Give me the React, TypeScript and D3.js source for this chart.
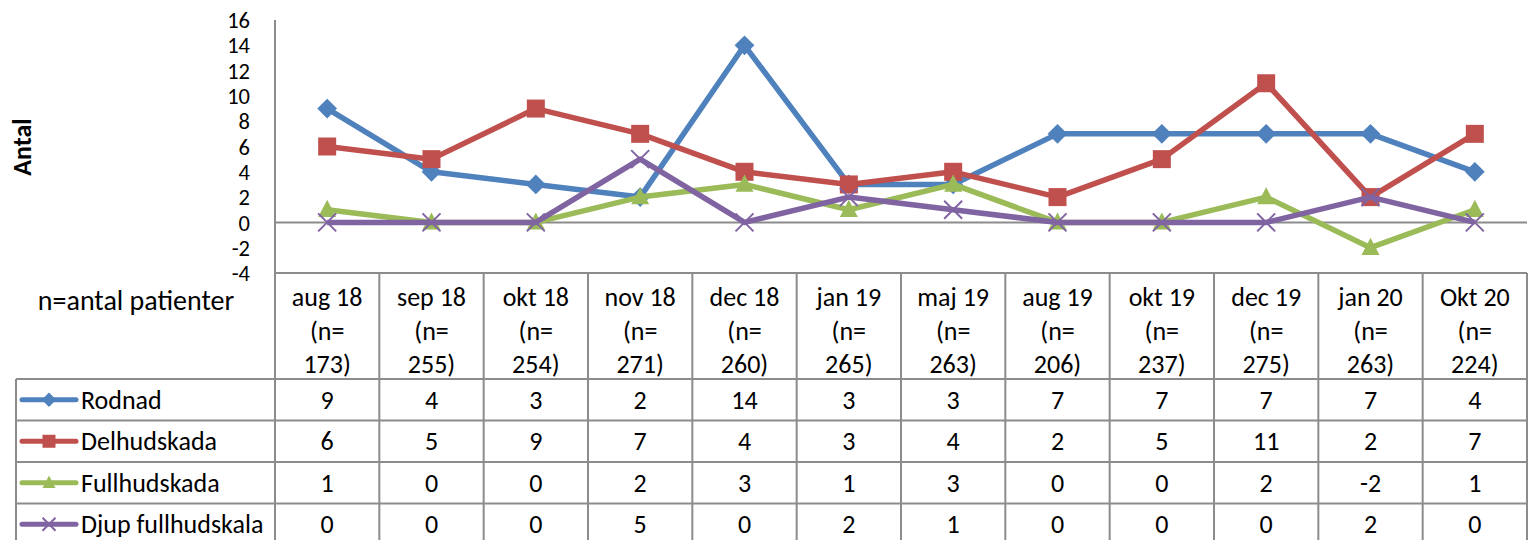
import React from 'react';
import * as d3 from 'd3';

const months = ['aug 18', 'sep 18', 'okt 18', 'nov 18', 'dec 18', 'jan 19', 'maj 19', 'aug 19', 'okt 19', 'dec 19', 'jan 20', 'Okt 20'];
const patients = [173, 255, 254, 271, 260, 265, 263, 206, 237, 275, 263, 224];

const rodnad = [9, 4, 3, 2, 14, 3, 3, 7, 7, 7, 7, 4];
const delhudskada = [6, 5, 9, 7, 4, 3, 4, 2, 5, 11, 2, 7];
const fullhudskada = [1, 0, 0, 2, 3, 1, 3, 0, 0, 2, -2, 1];
const djupFullhudskala = [0, 0, 0, 5, 0, 2, 1, 0, 0, 0, 2, 0];

const yTicks = [-4, -2, 0, 2, 4, 6, 8, 10, 12, 14, 16];

const series = [
  { name: 'Rodnad', values: rodnad, color: '#4F81BD', marker: 'diamond' },
  { name: 'Delhudskada', values: delhudskada, color: '#C0504D', marker: 'square' },
  { name: 'Fullhudskada', values: fullhudskada, color: '#9BBB59', marker: 'triangle' },
  { name: 'Djup fullhudskala', values: djupFullhudskala, color: '#8064A2', marker: 'x' },
];

const W = 1528;
const H = 540;
const FONT = 'Carlito, Calibri, Lato, sans-serif';
const GRID = '#8c8c8c';
const TXT = 26;

// marker drawn centred at 0,0
const Marker = ({ type, color, size }: { type: string; color: string; size: number }) => {
  const s = size / 2;
  if (type === 'diamond') {
    return <path d={`M0,${-s * 1.1}L${s * 1.1},0L0,${s * 1.1}L${-s * 1.1},0Z`} fill={color} />;
  }
  if (type === 'square') {
    return <rect x={-s} y={-s} width={size} height={size} fill={color} />;
  }
  if (type === 'triangle') {
    return <path d={`M0,${-s * 1.1}L${s},${s * 0.8}L${-s},${s * 0.8}Z`} fill={color} />;
  }
  return (
    <path d={`M${-s},${-s}L${s},${s}M${-s},${s}L${s},${-s}`} stroke={color} strokeWidth={2} fill="none" />
  );
};

const App = () => {
  const left = 275;
  const right = 1527;
  const plotTop = 20;
  const plotBottom = 273;
  const headerBottom = 379;
  const rowH = 41.5;

  const x = d3.scaleBand<string>().domain(months).range([left, right]);
  const y = d3.scaleLinear().domain([-4, 16]).range([plotBottom, plotTop]);
  const cx = (i: number) => (x(months[i]) as number) + x.bandwidth() / 2;

  const line = d3.line<number>()
    .x((d, i) => cx(i))
    .y(d => y(d));

  const rowY = (r: number) => headerBottom + r * rowH;

  return (
    <svg width={W} height={H} style={{ position: 'absolute', left: 0, top: 0, background: '#fff' }}
      fontFamily={FONT}>
      {/* y axis title */}
      <text transform={`translate(31,147) rotate(-90)`} textAnchor="middle" fontSize={26} fontWeight="bold" fill="#000">
        Antal
      </text>

      {/* y tick labels */}
      {yTicks.map(t => (
        <text key={t} x={250} y={y(t)} dy="0.36em" textAnchor="end" fontSize={22.5} fill="#000">{t}</text>
      ))}

      {/* axis lines */}
      <line x1={left} x2={left} y1={plotTop} y2={plotBottom} stroke={GRID} strokeWidth={2} />
      <line x1={left} x2={right} y1={y(0)} y2={y(0)} stroke={GRID} strokeWidth={2} />

      {/* table grid */}
      <line x1={left} x2={right} y1={plotBottom} y2={plotBottom} stroke={GRID} strokeWidth={2} />
      {[0, 1, 2, 3].map(r => (
        <line key={r} x1={16} x2={right} y1={rowY(r)} y2={rowY(r)} stroke={GRID} strokeWidth={2} />
      ))}
      <line x1={16} x2={16} y1={headerBottom} y2={H} stroke={GRID} strokeWidth={2} />
      {months.map(m => (
        <line key={m} x1={x(m) as number} x2={x(m) as number} y1={plotBottom} y2={H} stroke={GRID} strokeWidth={2} />
      ))}
      <line x1={right} x2={right} y1={plotBottom} y2={H} stroke={GRID} strokeWidth={2} />

      {/* header */}
      <text x={136} y={300} dy="0.35em" textAnchor="middle" fontSize={28} fill="#000">n=antal patienter</text>
      {months.map((m, i) => (
        <g key={m} fontSize={TXT} textAnchor="middle" fill="#000">
          <text x={cx(i)} y={297} dy="0.35em">{m}</text>
          <text x={cx(i)} y={331} dy="0.35em">(n=</text>
          <text x={cx(i)} y={364} dy="0.35em">{patients[i]})</text>
        </g>
      ))}

      {/* data rows */}
      {series.map((s, r) => {
        const mid = rowY(r) + rowH / 2;
        return (
          <g key={s.name}>
            <line x1={22} x2={76} y1={mid} y2={mid} stroke={s.color} strokeWidth={5} strokeLinecap="round" />
            <g transform={`translate(49,${mid})`}>
              <Marker type={s.marker} color={s.color} size={13} />
            </g>
            <text x={81} y={mid} dy="0.35em" fontSize={TXT} fill="#000">{s.name}</text>
            {s.values.map((v, i) => (
              <text key={i} x={cx(i)} y={mid} dy="0.35em" textAnchor="middle" fontSize={TXT} fill="#000">{v}</text>
            ))}
          </g>
        );
      })}

      {/* series lines and markers */}
      {series.map(s => (
        <g key={s.name}>
          <path d={line(s.values) as string} fill="none" stroke={s.color} strokeWidth={5.5} strokeLinejoin="round" />
          {s.values.map((v, i) => (
            <g key={i} transform={`translate(${cx(i)},${y(v)})`}>
              <Marker type={s.marker} color={s.color} size={18} />
            </g>
          ))}
        </g>
      ))}
    </svg>
  );
};

export default App;
